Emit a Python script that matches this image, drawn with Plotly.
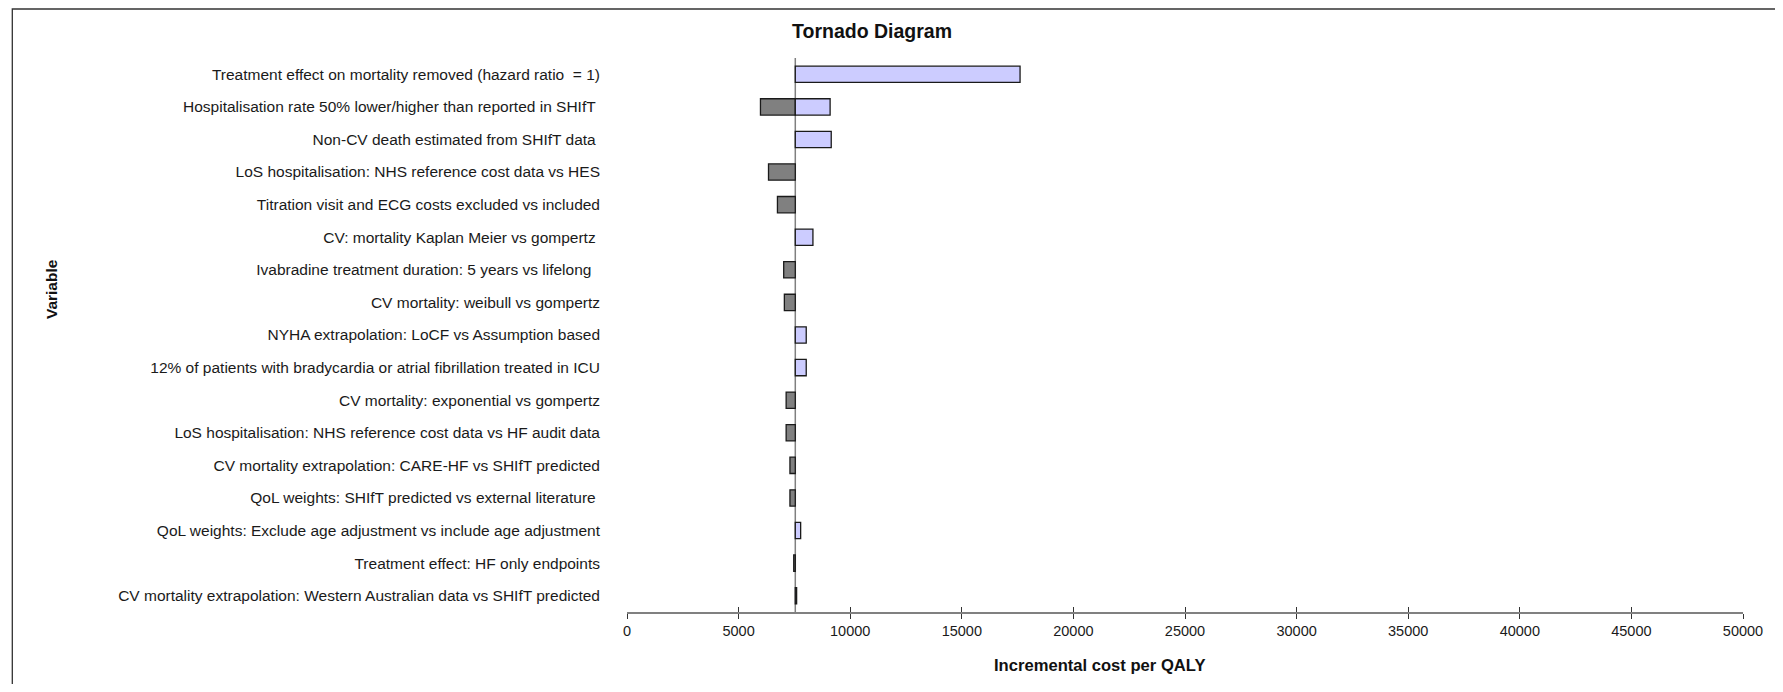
import plotly.graph_objects as go

NB = "\u00a0"
variables = [
    "Treatment effect on mortality removed (hazard ratio" + NB + " = 1)",
    "Hospitalisation rate 50% lower/higher than reported in SHIfT" + NB,
    "Non-CV death estimated from SHIfT data" + NB,
    "LoS hospitalisation: NHS reference cost data vs HES",
    "Titration visit and ECG costs excluded vs included",
    "CV: mortality Kaplan Meier vs gompertz" + NB,
    "Ivabradine treatment duration: 5 years vs lifelong" + NB + NB,
    "CV mortality: weibull vs gompertz",
    "NYHA extrapolation: LoCF vs Assumption based",
    "12% of patients with bradycardia or atrial fibrillation treated in ICU",
    "CV mortality: exponential vs gompertz",
    "LoS hospitalisation: NHS reference cost data vs HF audit data",
    "CV mortality extrapolation: CARE-HF vs SHIfT predicted",
    "QoL weights: SHIfT predicted vs external literature" + NB,
    "QoL weights: Exclude age adjustment vs include age adjustment",
    "Treatment effect: HF only endpoints",
    "CV mortality extrapolation: Western Australian data vs SHIfT predicted",
]

base_icer = 7540

# value below base (dark bars) and above base (light bars); None = no bar
low_values = [None, 5980, None, 6340, 6740, None, 7020, 7050, None, None,
              7130, 7130, 7300, 7300, None, 7470, None]
high_values = [17610, 9100, 9150, None, None, 8330, None, None, 8030, 8030,
               None, None, None, None, 7780, None, 7600]

x_ticks = [0, 5000, 10000, 15000, 20000, 25000, 30000, 35000, 40000, 45000, 50000]

low_dx = [None if v is None else v - base_icer for v in low_values]
high_dx = [None if v is None else v - base_icer for v in high_values]

# page has an 8px body margin; work in page coordinates and convert
OFF = 8
W, H = 1783 - 2 * OFF, 692 - 2 * OFF
plot_l, plot_r, plot_t, plot_b = 627 - OFF, 1749 - OFF, 58 - OFF, 612 - OFF
L, R, T, B = plot_l, W - plot_r, plot_t, H - plot_b
pw, ph = plot_r - plot_l, plot_b - plot_t


def px(xp):
    return (xp - OFF - plot_l) / pw


def py(yp):
    return (plot_b - (yp - OFF)) / ph


fig = go.Figure()
fig.add_trace(go.Bar(
    y=variables, x=low_dx, base=base_icer, orientation="h", width=0.5,
    marker=dict(color="#808080", line=dict(color="#1a1a1a", width=1.3)),
    showlegend=False, hoverinfo="skip"))
fig.add_trace(go.Bar(
    y=variables, x=high_dx, base=base_icer, orientation="h", width=0.5,
    marker=dict(color="#ccccff", line=dict(color="#1a1a1a", width=1.3)),
    showlegend=False, hoverinfo="skip"))
# invisible trace for the overlay axis (inside ticks)
fig.add_trace(go.Scatter(x=[0, 50000], y=[variables[0], variables[0]], xaxis="x2",
                         mode="markers", marker=dict(opacity=0), showlegend=False,
                         hoverinfo="skip"))

fig.update_layout(
    width=W, height=H,
    margin=dict(l=L, r=R, t=T, b=B, pad=0),
    paper_bgcolor="white", plot_bgcolor="white",
    barmode="overlay",
    font=dict(family="Liberation Sans, Arial, sans-serif", size=15, color="#1a1a1a"),
    xaxis=dict(range=[0, 50000], tickvals=x_ticks, ticktext=[str(v) for v in x_ticks],
               showgrid=False, zeroline=False, showline=True, linecolor="#808080",
               linewidth=1.5, ticks="outside", ticklen=5, tickcolor="#333333",
               tickwidth=1, tickfont=dict(size=14.5, color="#1a1a1a")),
    xaxis2=dict(range=[0, 50000], overlaying="x", side="bottom", tickvals=x_ticks,
                showticklabels=False, showgrid=False, zeroline=False, showline=False,
                ticks="inside", ticklen=5, tickcolor="#333333", tickwidth=1),
    yaxis=dict(type="category", categoryorder="array", categoryarray=variables,
               range=[16.5, -0.5], showgrid=False, zeroline=False, showline=False,
               ticks="", ticklabelstandoff=26, tickfont=dict(size=15.5, color="#1a1a1a")),
    shapes=[
        dict(type="line", xref="x", yref="paper", x0=base_icer, x1=base_icer, y0=0, y1=1,
             line=dict(color="#808080", width=1.5), layer="below"),
        dict(type="rect", xref="paper", yref="paper",
             x0=px(9), x1=px(1783 + 30), y0=py(692 + 30), y1=py(9),
             line=dict(color="#333333", width=1.3), fillcolor="rgba(0,0,0,0)"),
    ],
    annotations=[
        dict(text="<b>Tornado Diagram</b>", xref="paper", yref="paper",
             x=px(873), y=py(31), xanchor="center", yanchor="middle",
             showarrow=False, font=dict(size=19.5, color="#111111")),
        dict(text="<b>Variable</b>", xref="paper", yref="paper",
             x=px(48), y=py(289), xanchor="center", yanchor="middle",
             textangle=-90, showarrow=False, font=dict(size=15.5, color="#111111")),
        dict(text="<b>Incremental cost per QALY</b>", xref="paper", yref="paper",
             x=px(1103), y=py(665), xanchor="center", yanchor="middle",
             showarrow=False, font=dict(size=16.6, color="#111111")),
    ],
)

fig.write_html("out.html")
